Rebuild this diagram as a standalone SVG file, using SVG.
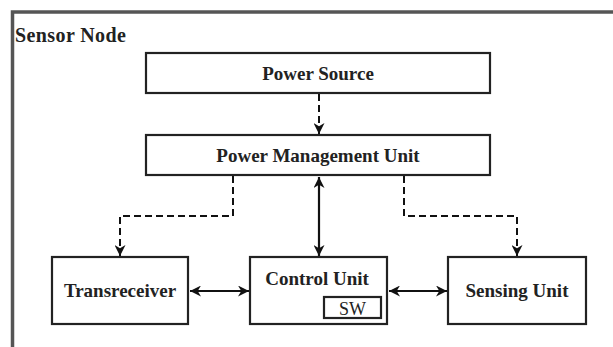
<svg xmlns="http://www.w3.org/2000/svg" width="613" height="347" viewBox="0 0 613 347">
<style>
.box{fill:#fff;stroke:#222;stroke-width:2.2}
.t{font-family:"Liberation Serif",serif;font-weight:bold;font-size:19px;fill:#222;text-anchor:middle}
.c{fill:none;stroke:#111;stroke-width:2.2}
.d{fill:none;stroke:#111;stroke-width:2;stroke-dasharray:7,4}
</style>
<defs>
<marker id="ah" viewBox="0 0 10 10" refX="10" refY="5" markerWidth="11" markerHeight="11" markerUnits="userSpaceOnUse" orient="auto-start-reverse">
<path d="M0,0 L10,5 L0,10 L3,5 Z" fill="#111"/>
</marker>
</defs>
<rect width="613" height="347" fill="#fff"/>
<g id="frame">
<path d="M12.5,347 L12.5,12 L613,12" fill="none" stroke="#555" stroke-width="3.5"/>
<text x="15" y="42" class="t" style="text-anchor:start;font-size:20px;letter-spacing:0.4px">Sensor Node</text>
</g>
<g id="connectors">
<path class="d" d="M319,94 L319,134" marker-end="url(#ah)"/>
<path class="c" d="M319,177 L319,256" marker-start="url(#ah)" marker-end="url(#ah)"/>
<path class="d" d="M233,176 L233,216 L120,216 L120,256" marker-end="url(#ah)"/>
<path class="d" d="M404,176 L404,216 L517,216 L517,256" marker-end="url(#ah)"/>
<path class="c" d="M190,291 L249,291" marker-start="url(#ah)" marker-end="url(#ah)"/>
<path class="c" d="M389,291 L447,291" marker-start="url(#ah)" marker-end="url(#ah)"/>
</g>
<g id="power-source">
<rect class="box" x="146" y="53" width="344" height="40"/>
<text class="t" x="318" y="80">Power Source</text>
</g>
<g id="power-management-unit">
<rect class="box" x="146" y="135" width="344" height="40"/>
<text class="t" x="318" y="162">Power Management Unit</text>
</g>
<g id="transreceiver">
<rect class="box" x="52" y="257" width="136" height="67"/>
<text class="t" x="120" y="297">Transreceiver</text>
</g>
<g id="control-unit">
<rect class="box" x="250" y="257" width="137" height="67"/>
<text class="t" x="317" y="285">Control Unit</text>
</g>
<g id="sw">
<rect class="box" x="324" y="297" width="57" height="21"/>
<text class="t" x="352.5" y="315" style="font-weight:normal;font-size:18px">SW</text>
</g>
<g id="sensing-unit">
<rect class="box" x="448" y="257" width="138" height="67"/>
<text class="t" x="517" y="297">Sensing Unit</text>
</g>
</svg>
